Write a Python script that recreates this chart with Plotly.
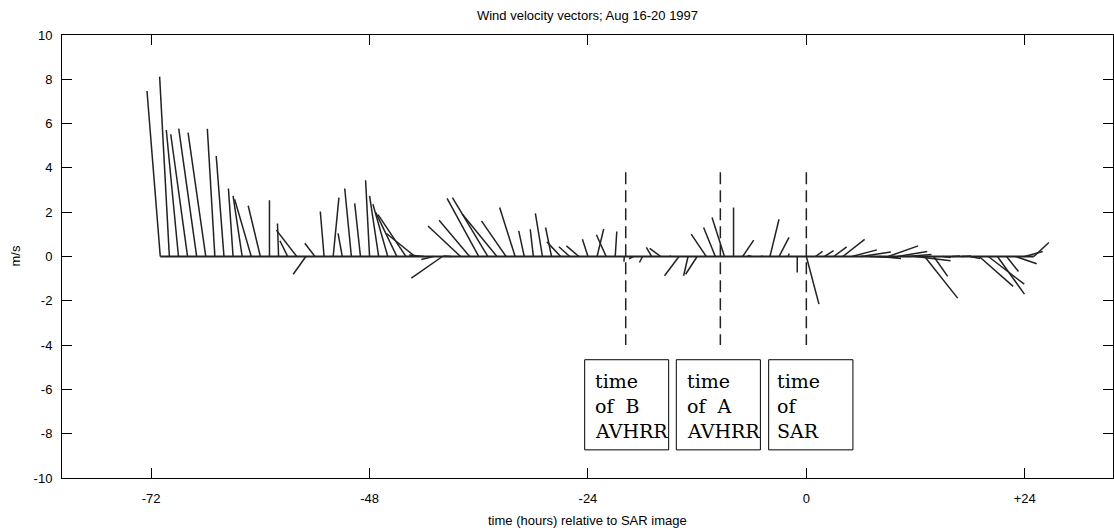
import plotly.graph_objects as go

# ---------------- data ----------------
times = list(range(-71, 26))  # hours relative to SAR image

u_east = [
    -0.60, -0.44, -0.55, -0.76, -0.81, -0.80, -0.34, -0.35, -0.21, -0.41,
    -0.75, -0.55, 0.00, -0.05, -0.35, -0.92, -0.57, -0.46, -0.17, 0.26,
    -0.19, -0.30, -0.26, -0.18, -0.41, -0.67, -0.95, -1.26, -1.29, -0.68,
    -0.54, -1.40, -0.36, -1.47, -1.38, -1.43, -1.60, -1.56, -1.11, -0.70,
    -0.25, -0.14, -0.32, -0.27, -0.62, -0.49, -0.56, -0.25, 0.30, -0.44,
    0.07, -0.02, -0.20, -0.14, -0.24, -0.50, 0.05, -0.65, -0.20, -0.52,
    -0.68, -0.53, -0.56, 0.00, 0.50, -0.18, 0.09, 0.41, 0.45, 0.05,
    0.00, 0.57, 0.32, 0.41, 0.59, 0.99, 1.13, 1.35, 1.26, 0.99,
    1.35, 1.35, 1.13, 1.58, 1.49, 0.63, 0.36, 0.36, 0.45, 0.45,
    1.53, 1.62, 1.22, 0.54, 0.95, 0.81, 0.68,
]
v_north = [
    7.47, 8.12, 5.71, 5.52, 5.77, 5.59, 5.77, 4.54, 3.07, 2.74,
    2.58, 2.29, 2.54, 1.49, 0.71, 1.19, -0.80, 0.60, 2.03, 2.66,
    1.04, 3.07, 2.40, 3.44, 2.74, 2.36, 1.98, 1.89, 1.04, 0.07,
    -0.14, -0.98, 0.02, 1.38, 1.64, 2.62, 2.66, 1.91, 1.61, 2.21,
    1.16, 1.23, 1.95, 1.31, 0.66, 0.44, 0.48, 0.78, 1.24, 0.98,
    1.13, -0.23, -0.10, -0.27, 0.41, 0.37, 0.02, -0.87, -0.87, -0.80,
    1.01, 1.31, 1.76, 2.21, 0.74, 0.05, 0.02, 1.68, 0.86, 0.14,
    -0.72, -2.15, 0.23, 0.27, 0.43, 0.77, 0.30, 0.20, -0.05, -0.09,
    0.48, 0.23, 0.09, -0.19, -1.88, -0.90, -0.05, 0.02, 0.02, -0.09,
    -1.35, -1.25, -1.70, -0.68, -0.33, 0.23, 0.63,
]

event_times = [-19.85, -9.45, 0.0]
event_labels = [["time", "of\u00a0\u00a0B", "AVHRR"],
                ["time", "of\u00a0\u00a0A", "AVHRR"],
                ["time", "of", "SAR"]]

x_ticks = [-72, -48, -24, 0, 24]
x_ticktext = ["-72", "-48", "-24", "0", "+24"]
y_ticks = [-10, -8, -6, -4, -2, 0, 2, 4, 6, 8, 10]
y_ticktext = ["-10", "-8", "-6", "-4", "-2", "0", "2", "4", "6", "8", "10"]

# ---------------- layout geometry ----------------
W, H = 1114, 532
ML, MR, MT, MB = 62, 1, 35, 54
XR = [-81.8, 33.7]
YR = [-10, 10]
plot_w = W - ML - MR
plot_h = H - MT - MB
px_per_hour = plot_w / (XR[1] - XR[0])
px_per_ms = plot_h / (YR[1] - YR[0])
aspect = px_per_ms / px_per_hour  # hours per m/s so sticks keep true direction

stick_x, stick_y = [], []
for t, uu, vv in zip(times, u_east, v_north):
    stick_x += [t, t + uu * aspect, None]
    stick_y += [0, vv, None]

FONT = "Liberation Sans, Arial, Helvetica, sans-serif"
LINE = "#222222"

fig = go.Figure()
fig.add_trace(go.Scatter(x=[times[0], times[-1]], y=[0, 0], mode="lines",
                         line=dict(color=LINE, width=2), hoverinfo="skip"))
fig.add_trace(go.Scatter(x=stick_x, y=stick_y, mode="lines",
                         line=dict(color=LINE, width=1.5), hoverinfo="skip"))
for et in event_times:
    fig.add_trace(go.Scatter(x=[et, et], y=[3.8, -4.0], mode="lines",
                             line=dict(color=LINE, width=1.5, dash="12px,6px"),
                             hoverinfo="skip"))

# label boxes
box_x = [(-24.36, -15.13), (-14.29, -5.05), (-4.14, 5.12)]
box_y = (-4.66, -8.73)
text_x = [-23.5, -13.3, -3.4]
line_y = [-5.61, -6.74, -7.87]
for (x0, x1), tx, lines in zip(box_x, text_x, event_labels):
    fig.add_shape(type="rect", x0=x0, x1=x1, y0=box_y[1], y1=box_y[0],
                  line=dict(color="black", width=1), fillcolor="white", layer="above")
    for ly, txt in zip(line_y, lines):
        fig.add_annotation(x=tx, y=ly, text=txt, showarrow=False, xanchor="left",
                           yanchor="middle",
                           font=dict(family="DejaVu Serif, serif", size=19, color="black"))

# x-axis title
fig.add_annotation(xref="paper", yref="paper", x=0.5, y=-(520 - (H - MB)) / plot_h,
                   text="time (hours) relative to SAR image", showarrow=False,
                   xanchor="center", yanchor="middle",
                   font=dict(family=FONT, size=13, color="black"))
# y-axis title
fig.add_annotation(xref="paper", yref="paper", x=-(ML - 15) / plot_w, y=0.5,
                   text="m/s", textangle=-90, showarrow=False,
                   xanchor="center", yanchor="middle",
                   font=dict(family=FONT, size=13, color="black"))

fig.update_layout(
    width=W, height=H,
    margin=dict(l=ML, r=MR, t=MT, b=MB, pad=0),
    paper_bgcolor="white", plot_bgcolor="white",
    showlegend=False,
    title=dict(text="Wind velocity vectors; Aug 16-20 1997", x=(ML + plot_w / 2) / W,
               xanchor="center", y=1 - 15 / H, yanchor="middle", yref="container",
               font=dict(family=FONT, size=13, color="black")),
    xaxis=dict(range=XR, tickvals=x_ticks, ticktext=x_ticktext, ticks="inside",
               ticklen=10, tickcolor="black", tickwidth=1, showline=True,
               linecolor="black", linewidth=1, mirror="ticks", showgrid=False,
               zeroline=False, ticklabelstandoff=8,
               tickfont=dict(family=FONT, size=13, color="black")),
    yaxis=dict(range=YR, tickvals=y_ticks, ticktext=y_ticktext, ticks="inside",
               ticklen=10, tickcolor="black", tickwidth=1, showline=True,
               linecolor="black", linewidth=1, mirror="ticks", showgrid=False,
               zeroline=False, ticklabelstandoff=6,
               tickfont=dict(family=FONT, size=13, color="black")),
)

fig.write_html("out.html")
